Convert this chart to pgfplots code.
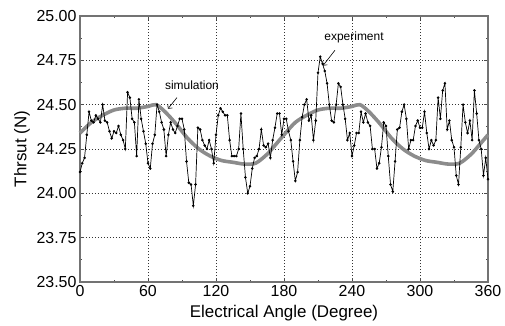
\documentclass[border=0pt]{standalone}
\usepackage{pgfplots}
\pgfplotsset{compat=1.18}
\usepackage{pgfplotstable}
\usetikzlibrary{arrows.meta}
\usepackage{fontspec}
\setmainfont{Liberation Sans}
\definecolor{simgray}{RGB}{140,140,140}
\pgfplotstableread{
x y
0 24.12
2 24.17
4 24.20
6 24.33
8 24.46
10 24.41
12 24.40
14 24.44
16 24.42
18 24.40
20 24.50
22 24.41
24 24.40
26 24.35
28 24.31
30 24.35
32 24.34
34 24.38
36 24.33
38 24.30
40 24.25
42 24.57
44 24.54
46 24.42
48 24.40
50 24.21
52 24.53
54 24.42
56 24.35
58 24.28
60 24.17
62 24.14
64 24.28
66 24.33
68 24.50
70 24.46
72 24.40
74 24.36
76 24.21
78 24.33
80 24.40
82 24.36
84 24.34
86 24.38
88 24.42
90 24.42
92 24.36
94 24.18
96 24.06
98 24.05
100 23.93
102 24.05
104 24.37
106 24.36
108 24.30
110 24.27
112 24.25
114 24.30
116 24.25
118 24.17
120 24.33
122 24.44
124 24.48
126 24.46
128 24.44
130 24.44
132 24.30
134 24.21
136 24.21
138 24.21
140 24.25
142 24.45
144 24.25
146 24.09
148 24.00
150 24.04
152 24.14
154 24.20
156 24.21
158 24.25
160 24.36
162 24.27
164 24.26
166 24.28
168 24.20
170 24.30
172 24.37
174 24.45
176 24.45
178 24.33
180 24.42
182 24.42
184 24.35
186 24.30
188 24.18
190 24.07
192 24.12
194 24.30
196 24.43
198 24.50
200 24.53
202 24.41
204 24.44
206 24.30
208 24.41
210 24.68
212 24.77
214 24.73
216 24.69
218 24.62
220 24.50
222 24.41
224 24.40
226 24.50
228 24.62
230 24.60
232 24.50
234 24.42
236 24.30
238 24.34
240 24.21
242 24.27
244 24.34
246 24.34
248 24.46
250 24.40
252 24.45
254 24.40
256 24.38
258 24.25
260 24.25
262 24.14
264 24.17
266 24.26
268 24.40
270 24.38
272 24.21
274 24.05
276 24.01
278 24.18
280 24.36
282 24.37
284 24.46
286 24.50
288 24.42
290 24.25
292 24.30
294 24.30
296 24.38
298 24.41
300 24.37
302 24.37
304 24.46
306 24.34
308 24.25
310 24.30
312 24.27
314 24.30
316 24.54
318 24.42
320 24.58
322 24.62
324 24.36
326 24.41
328 24.30
330 24.26
332 24.10
334 24.05
336 24.26
338 24.50
340 24.40
342 24.34
344 24.41
346 24.30
348 24.58
350 24.45
352 24.30
354 24.25
356 24.10
358 24.20
360 24.08
}\experiment
\pgfplotstableread{
x y
0 24.34
10 24.40
20 24.44
30 24.47
40 24.48
50 24.48
60 24.49
67 24.50
75 24.46
85 24.39
95 24.31
105 24.25
115 24.21
125 24.185
135 24.175
145 24.165
155 24.17
165 24.22
172 24.27
180 24.33
190 24.40
200 24.44
210 24.47
220 24.48
230 24.48
240 24.49
247 24.50
255 24.46
265 24.39
275 24.31
285 24.25
295 24.21
305 24.185
315 24.175
325 24.165
335 24.17
345 24.22
352 24.27
360 24.33
}\simulation
\begin{document}
\begin{tikzpicture}
\begin{axis}[
  scale only axis,
  width=408bp, height=266bp,
  xmin=0, xmax=360, ymin=23.5, ymax=25.0,
  xtick={0,60,...,360},
  ytick={23.5,23.75,...,25.0},
  minor x tick num=1,
  minor y tick num=1,
  tick align=inside,
  major tick length=4bp,
  minor tick length=2.5bp,
  tick style={black!70, line width=0.8bp},
  axis line style={black!55, line width=1.2bp},
  grid=major,
  major grid style={black!80, line width=0.7bp, dash pattern=on 1bp off 2bp},
  /pgf/number format/assume math mode=true,
  yticklabel style={/pgf/number format/.cd, fixed, fixed zerofill, precision=2},
  xticklabel style={/pgf/number format/.cd, fixed},
  ticklabel style={font=\fontsize{16}{18}\selectfont},
  label style={font=\fontsize{17}{19}\selectfont},
  xlabel={Electrical Angle (Degree)},
  ylabel={Thrsut (N)},
  xlabel style={at={(axis description cs:0.5,-0.1165)}, anchor=center},
  ylabel style={at={(axis description cs:-0.142,0.5)}, anchor=center},
  clip=false,
]
\addplot[color=simgray, line width=3.6bp, smooth, tension=0.5] table[x=x,y=y] {\simulation};
\addplot[black, line width=0.7bp, mark=*, mark size=0.9bp] table[x=x,y=y] {\experiment};
\node[font=\fontsize{12}{14}\selectfont] at (axis cs:98.8,24.61) {simulation};
\draw[-{Straight Barb[length=3bp]}, line width=0.6bp] (axis cs:85.6,24.54) -- (axis cs:77.6,24.477);
\node[font=\fontsize{12}{14}\selectfont] at (axis cs:241.8,24.88) {experiment};
\draw[-{Straight Barb[length=3bp]}, line width=0.6bp] (axis cs:225,24.807) -- (axis cs:214.4,24.72);
\end{axis}
\path (current axis.south west) ++(-80bp,-44bp) coordinate (bbsw);
\path (current axis.north east) ++(17bp,16bp) coordinate (bbne);
\path (bbsw) rectangle (bbne);
\end{tikzpicture}
\end{document}
